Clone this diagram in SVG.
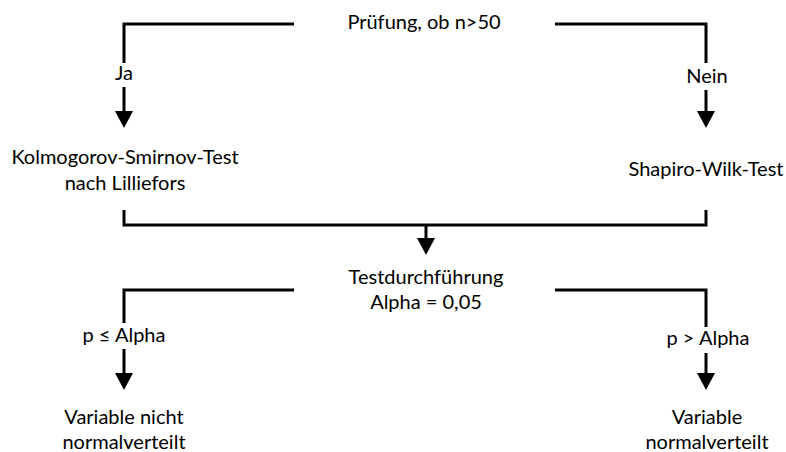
<svg xmlns="http://www.w3.org/2000/svg" width="786" height="452" viewBox="0 0 786 452">
  <defs>
    <marker id="arrow" viewBox="0 -9 17 18" markerWidth="17" markerHeight="18" refX="0" refY="0" orient="auto" markerUnits="userSpaceOnUse">
      <path d="M0,-9 L17,0 L0,9 z" fill="#000"/>
    </marker>
    <style>
      .ln { fill: none; stroke: #000; stroke-width: 3; stroke-linejoin: miter; stroke-linecap: butt; }
      .ar { marker-end: url(#arrow); }
      text { font-family: Lato, "Open Sans", "Liberation Sans", sans-serif; font-size: 20px; fill: #000; text-anchor: middle; }
    </style>
  </defs>
  <rect width="786" height="452" fill="#fff"/>

  <!-- connectors -->
  <g id="connectors">
    <!-- decision split -->
    <path class="ln" d="M294,24 H124 V63"/>
    <path class="ln ar" d="M124,87 V111"/>
    <path class="ln" d="M555,24 H706 V63"/>
    <path class="ln ar" d="M706,90 V111"/>
    <!-- merge into test run -->
    <path class="ln" d="M124,210 V225 H706 V210"/>
    <path class="ln ar" d="M426,225 V238"/>
    <!-- result split -->
    <path class="ln" d="M294,290 H124 V323"/>
    <path class="ln ar" d="M124,349 V373"/>
    <path class="ln" d="M555,290 H706 V327"/>
    <path class="ln ar" d="M706,353 V373"/>
  </g>

  <!-- edge labels -->
  <g id="labels">
    <text x="124" y="80">Ja</text>
    <text x="707" y="83">Nein</text>
    <text x="124" y="342">p ≤ Alpha</text>
    <text x="708" y="345">p &gt; Alpha</text>
  </g>

  <g id="node-check">
    <text x="424" y="29">Prüfung, ob n&gt;50</text>
  </g>
  <g id="node-ks">
    <text x="125" y="164">Kolmogorov-Smirnov-Test</text>
    <text x="125" y="190">nach Lilliefors</text>
  </g>
  <g id="node-sw">
    <text x="706" y="176">Shapiro-Wilk-Test</text>
  </g>
  <g id="node-test">
    <text x="426" y="284">Testdurchführung</text>
    <text x="426" y="309">Alpha = 0,05</text>
  </g>
  <g id="node-not-normal">
    <text x="124" y="424">Variable nicht</text>
    <text x="124" y="449">normalverteilt</text>
  </g>
  <g id="node-normal">
    <text x="707" y="424">Variable</text>
    <text x="707" y="449">normalverteilt</text>
  </g>
</svg>
